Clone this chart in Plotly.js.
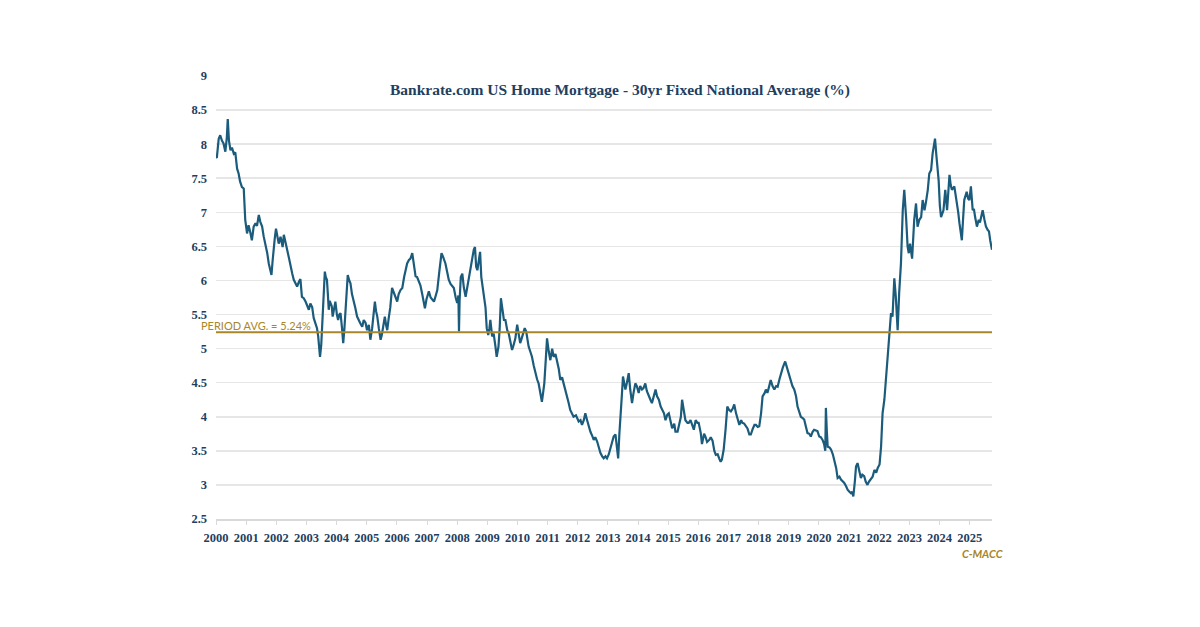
<!DOCTYPE html>
<html>
<head>
<meta charset="utf-8">
<script src="https://cdn.plot.ly/plotly-3.0.1.min.js"></script>
<style>
  html, body { margin: 0; padding: 0; background: #ffffff; }
  #chart { width: 1200px; height: 627px; }
</style>
</head>
<body>
<div id="chart"></div>
<script>
// ---- Data ----
const chartTitle = "Bankrate.com US Home Mortgage - 30yr Fixed National Average (%)";
const periodAvg = 5.24;
const periodAvgLabel = "PERIOD AVG. = 5.24%";
const sourceLabel = "C-MACC";
const tickYears = [2000,2001,2002,2003,2004,2005,2006,2007,2008,2009,2010,2011,2012,2013,2014,2015,2016,2017,2018,2019,2020,2021,2022,2023,2024,2025];

const years2000s = [
2000.00,2000.03,2000.09,2000.14,2000.20,2000.25,2000.31,2000.36,2000.39,2000.43,2000.48,2000.53,2000.59,2000.64,2000.70,2000.75,2000.80,2000.86,2000.92,2000.97,
2001.03,2001.08,2001.14,2001.19,2001.25,2001.31,2001.36,2001.42,2001.47,2001.53,2001.58,2001.64,2001.70,2001.75,2001.80,2001.84,2001.88,2001.91,2001.95,2001.99,
2002.04,2002.08,2002.14,2002.21,2002.25,2002.30,2002.36,2002.42,2002.47,2002.53,2002.58,2002.64,2002.69,2002.75,2002.80,2002.85,2002.91,2002.97,
2003.02,2003.08,2003.13,2003.19,2003.24,2003.30,2003.35,2003.39,2003.42,2003.45,2003.49,2003.52,2003.56,2003.61,2003.64,2003.68,2003.71,2003.74,2003.77,2003.80,2003.84,2003.87,2003.92,2003.96,
2004.01,2004.05,2004.09,2004.13,2004.18,2004.22,2004.26,2004.29,2004.33,2004.37,2004.42,2004.46,2004.51,2004.57,2004.62,2004.68,2004.74,2004.79,2004.85,2004.90,2004.96,
2005.01,2005.07,2005.12,2005.18,2005.22,2005.27,2005.31,2005.35,2005.40,2005.46,2005.50,2005.55,2005.60,2005.64,2005.68,2005.73,2005.78,2005.84,2005.88,2005.92,2005.96,
2006.01,2006.06,2006.12,2006.18,2006.24,2006.29,2006.34,2006.40,2006.45,2006.51,2006.56,2006.62,2006.67,2006.73,2006.78,2006.84,2006.88,2006.93,2006.98,
2007.02,2007.06,2007.12,2007.18,2007.23,2007.29,2007.34,2007.40,2007.45,2007.48,2007.53,2007.57,2007.61,2007.67,2007.72,2007.78,2007.84,2007.89,2007.95,
2008.00,2008.04,2008.06,2008.08,2008.12,2008.17,2008.22,2008.28,2008.33,2008.39,2008.44,2008.50,2008.55,2008.59,2008.63,2008.67,2008.72,2008.76,2008.80,2008.84,2008.89,2008.94,2008.98,
2009.03,2009.07,2009.10,2009.16,2009.21,2009.27,2009.31,2009.37,2009.41,2009.45,2009.50,2009.55,2009.60,2009.66,2009.71,2009.77,2009.82,2009.87,2009.93,2009.99
];
const rates2000s = [
7.80,7.81,8.08,8.13,8.05,8.01,7.89,8.10,8.37,8.05,7.91,7.95,7.86,7.88,7.64,7.57,7.45,7.37,7.35,6.89,
6.69,6.81,6.70,6.59,6.79,6.84,6.80,6.96,6.86,6.79,6.65,6.54,6.40,6.25,6.15,6.08,6.30,6.49,6.62,6.76,
6.62,6.54,6.64,6.49,6.67,6.55,6.45,6.33,6.20,6.10,6.01,5.95,5.91,5.98,6.02,5.76,5.74,5.69,
5.62,5.57,5.66,5.61,5.45,5.37,5.30,5.18,5.00,4.88,5.05,5.32,5.80,6.13,6.05,6.01,5.80,5.57,5.70,5.66,5.62,5.47,5.58,5.69,
5.50,5.42,5.50,5.52,5.30,5.08,5.30,5.57,5.90,6.08,6.00,5.96,5.80,5.66,5.60,5.47,5.40,5.37,5.32,5.42,5.38,
5.27,5.35,5.13,5.30,5.50,5.69,5.55,5.47,5.30,5.13,5.20,5.35,5.47,5.35,5.27,5.45,5.60,5.89,5.85,5.80,5.75,
5.69,5.80,5.86,5.89,6.05,6.15,6.25,6.30,6.32,6.40,6.25,6.06,6.05,5.98,5.93,5.80,5.72,5.59,5.72,
5.80,5.84,5.75,5.72,5.69,5.78,5.86,6.10,6.35,6.40,6.35,6.30,6.25,6.12,6.01,5.95,5.92,5.89,5.75,
5.67,5.78,5.25,5.70,6.05,6.10,5.90,5.76,5.90,6.01,6.20,6.37,6.45,6.49,6.20,6.15,6.30,6.42,6.05,5.90,5.70,5.60,5.30,
5.20,5.30,5.42,5.18,5.22,5.03,4.88,5.03,5.30,5.74,5.55,5.42,5.42,5.27,5.22,5.10,4.98,5.05,5.15,5.35
];

const years2010s = [
2010.04,2010.09,2010.14,2010.18,2010.24,2010.29,2010.33,2010.37,2010.43,2010.48,2010.54,2010.59,2010.65,2010.70,2010.75,2010.81,2010.85,2010.89,2010.94,2010.98,
2011.04,2011.09,2011.15,2011.20,2011.26,2011.31,2011.37,2011.42,2011.48,2011.53,2011.59,2011.64,2011.70,2011.75,2011.81,2011.86,2011.94,
2012.03,2012.09,2012.14,2012.20,2012.25,2012.31,2012.36,2012.42,2012.48,2012.53,2012.58,2012.64,2012.70,2012.75,2012.81,2012.86,2012.92,2012.97,
2013.03,2013.08,2013.14,2013.19,2013.25,2013.30,2013.34,2013.38,2013.41,2013.46,2013.50,2013.54,2013.58,2013.63,2013.69,2013.74,2013.80,2013.85,2013.91,2013.96,
2014.02,2014.07,2014.13,2014.18,2014.24,2014.29,2014.35,2014.41,2014.46,2014.52,2014.58,2014.63,2014.69,2014.75,2014.80,2014.86,2014.91,2014.97,
2015.02,2015.08,2015.13,2015.20,2015.24,2015.31,2015.35,2015.42,2015.46,2015.50,2015.53,2015.57,2015.64,2015.68,2015.74,2015.80,2015.85,2015.91,2015.97,
2016.01,2016.08,2016.12,2016.19,2016.24,2016.29,2016.36,2016.41,2016.47,2016.53,2016.58,2016.64,2016.69,2016.74,2016.78,2016.84,2016.90,2016.96,
2017.02,2017.08,2017.14,2017.19,2017.25,2017.30,2017.36,2017.42,2017.46,2017.52,2017.58,2017.63,2017.69,2017.74,2017.80,2017.86,2017.91,2017.97,
2018.02,2018.08,2018.13,2018.20,2018.24,2018.29,2018.35,2018.40,2018.46,2018.52,2018.58,2018.63,2018.69,2018.74,2018.80,2018.85,2018.88,2018.92,2018.96,
2019.02,2019.07,2019.12,2019.18,2019.24,2019.29,2019.35,2019.40,2019.46,2019.51,2019.57,2019.62,2019.68,2019.73,2019.79,2019.84,2019.90,2019.95
];
const rates2010s = [
5.20,5.08,5.15,5.20,5.30,5.25,5.10,5.03,4.95,4.88,4.75,4.64,4.55,4.49,4.35,4.22,4.35,4.49,4.85,5.15,
4.95,4.83,5.00,4.88,4.92,4.83,4.70,4.54,4.58,4.49,4.40,4.30,4.20,4.10,4.05,4.00,4.02,
3.93,3.95,3.88,3.95,4.05,3.95,3.86,3.78,3.72,3.66,3.70,3.64,3.55,3.47,3.42,3.39,3.42,3.39,
3.45,3.52,3.62,3.71,3.74,3.55,3.39,3.75,3.91,4.30,4.59,4.50,4.40,4.50,4.64,4.40,4.20,4.35,4.49,4.45,
4.35,4.45,4.40,4.42,4.49,4.38,4.30,4.25,4.20,4.30,4.40,4.30,4.25,4.15,4.10,4.05,3.95,4.03,
4.05,3.93,3.83,3.90,3.78,3.78,3.86,4.00,4.25,4.15,4.10,3.95,3.91,3.91,3.95,3.86,3.81,3.95,3.91,
3.91,3.76,3.60,3.75,3.70,3.63,3.66,3.70,3.65,3.50,3.44,3.45,3.39,3.34,3.37,3.52,3.80,4.15,
4.10,4.08,4.12,4.18,4.05,3.96,3.88,3.95,3.91,3.90,3.85,3.83,3.74,3.74,3.82,3.88,3.88,3.85,
3.86,4.05,4.30,4.35,4.40,4.35,4.45,4.54,4.45,4.40,4.45,4.44,4.55,4.64,4.72,4.78,4.81,4.75,4.69,
4.60,4.49,4.45,4.40,4.30,4.15,4.05,4.00,3.98,3.96,3.85,3.76,3.75,3.71,3.78,3.81,3.80,3.79
];

const years2020s = [
2020.01,2020.06,2020.12,2020.17,2020.21,2020.23,2020.26,2020.29,2020.35,2020.40,2020.46,2020.51,2020.57,2020.62,2020.68,2020.73,2020.79,2020.84,2020.90,2020.95,
2021.01,2021.06,2021.10,2021.14,2021.19,2021.23,2021.28,2021.33,2021.39,2021.44,2021.50,2021.55,2021.61,2021.66,2021.72,2021.78,2021.84,2021.90,2021.95,
2022.01,2022.06,2022.11,2022.17,2022.22,2022.28,2022.33,2022.39,2022.44,2022.50,2022.55,2022.58,2022.61,2022.66,2022.72,2022.78,2022.83,2022.89,2022.94,2022.98,
2023.02,2023.09,2023.16,2023.22,2023.27,2023.33,2023.39,2023.44,2023.50,2023.55,2023.61,2023.66,2023.72,2023.77,2023.85,2023.90,2023.97,
2024.01,2024.05,2024.13,2024.19,2024.25,2024.33,2024.37,2024.41,2024.49,2024.57,2024.62,2024.66,2024.70,2024.74,2024.78,2024.82,2024.90,2024.95,2024.99,
2025.04,2025.10,2025.14,2025.18,2025.24,2025.30,2025.34,2025.38,2025.43,2025.49,2025.54,2025.60,2025.64,2025.68,2025.72,2025.74
];
const rates2020s = [
3.71,3.70,3.66,3.60,3.50,4.13,3.80,3.56,3.55,3.52,3.45,3.37,3.25,3.10,3.12,3.08,3.06,3.03,2.98,2.93,
2.90,2.88,2.90,2.83,3.05,3.27,3.32,3.20,3.10,3.15,3.13,3.05,3.00,3.05,3.08,3.12,3.22,3.18,3.25,
3.30,3.56,4.05,4.25,4.54,4.93,5.27,5.52,5.47,6.03,5.76,5.50,5.27,5.81,6.25,7.03,7.33,6.93,6.50,6.40,
6.54,6.32,6.89,7.13,6.79,6.89,6.93,7.18,7.03,7.15,7.33,7.57,7.62,7.86,8.08,7.81,7.47,
7.10,6.93,7.03,7.33,7.03,7.55,7.40,7.33,7.38,7.18,7.00,6.84,6.70,6.59,6.90,7.18,7.30,7.20,7.18,
7.38,7.03,7.05,6.93,6.79,6.89,6.85,6.93,7.03,6.89,6.79,6.74,6.72,6.59,6.50,6.45
];

const years = years2000s.concat(years2010s, years2020s);
const rates = rates2000s.concat(rates2010s, rates2020s);

// ---- Styles ----
const navy = "#1f3f5f";
const lineColor = "#1b5b7c";
const gold = "#a8862a";
const serif = "Liberation Serif, Times New Roman, serif";

const trace = {
  x: years, y: rates, type: "scatter", mode: "lines",
  line: { color: lineColor, width: 2.2 },
  hoverinfo: "x+y"
};

const layout = {
  width: 1200, height: 627,
  paper_bgcolor: "#ffffff", plot_bgcolor: "#ffffff",
  margin: { l: 216, r: 208, t: 76, b: 108 },
  showlegend: false,
  xaxis: {
    range: [2000, 2025.74],
    tickmode: "array", tickvals: tickYears, ticktext: tickYears.map(String),
    showgrid: false, zeroline: false,
    showline: true, linecolor: "#d9d9d9", linewidth: 1.5,
    ticks: "outside", ticklen: 4, tickcolor: "#d9d9d9", tickwidth: 1,
    tickfont: { family: serif, size: 12.5, color: navy, weight: "bold" },
    ticklabelstandoff: 2
  },
  yaxis: {
    range: [2.5, 9], dtick: 0.5, tick0: 2.5,
    showgrid: true, gridcolor: "#e6e6e6", gridwidth: 1.5,
    zeroline: false, showline: false, ticks: "",
    tickfont: { family: serif, size: 12.5, color: navy, weight: "bold" },
    ticklabelstandoff: 8
  },
  shapes: [{
    type: "line", xref: "paper", yref: "y",
    x0: 0, x1: 1, y0: periodAvg, y1: periodAvg,
    line: { color: gold, width: 2 }
  }],
  annotations: [
    {
      text: "<b>" + chartTitle + "</b>",
      xref: "paper", yref: "paper", x: 0.5206, y: 0.9678,
      xanchor: "center", yanchor: "middle", showarrow: false,
      font: { family: serif, size: 15.5, color: navy }
    },
    {
      text: periodAvgLabel,
      xref: "paper", yref: "y", x: -0.0219, y: periodAvg,
      xanchor: "left", yanchor: "bottom", yshift: -2, showarrow: false,
      font: { family: "Lato, Open Sans, sans-serif", size: 11, color: gold }
    },
    {
      text: "<b><i>" + sourceLabel + "</i></b>",
      xref: "paper", yref: "paper", x: 1.0186, y: -0.0779,
      xanchor: "right", yanchor: "middle", showarrow: false,
      font: { family: "Lato, Open Sans, sans-serif", size: 11, color: gold }
    }
  ]
};

Plotly.newPlot("chart", [trace], layout, { displayModeBar: false, staticPlot: true });
</script>
</body>
</html>
